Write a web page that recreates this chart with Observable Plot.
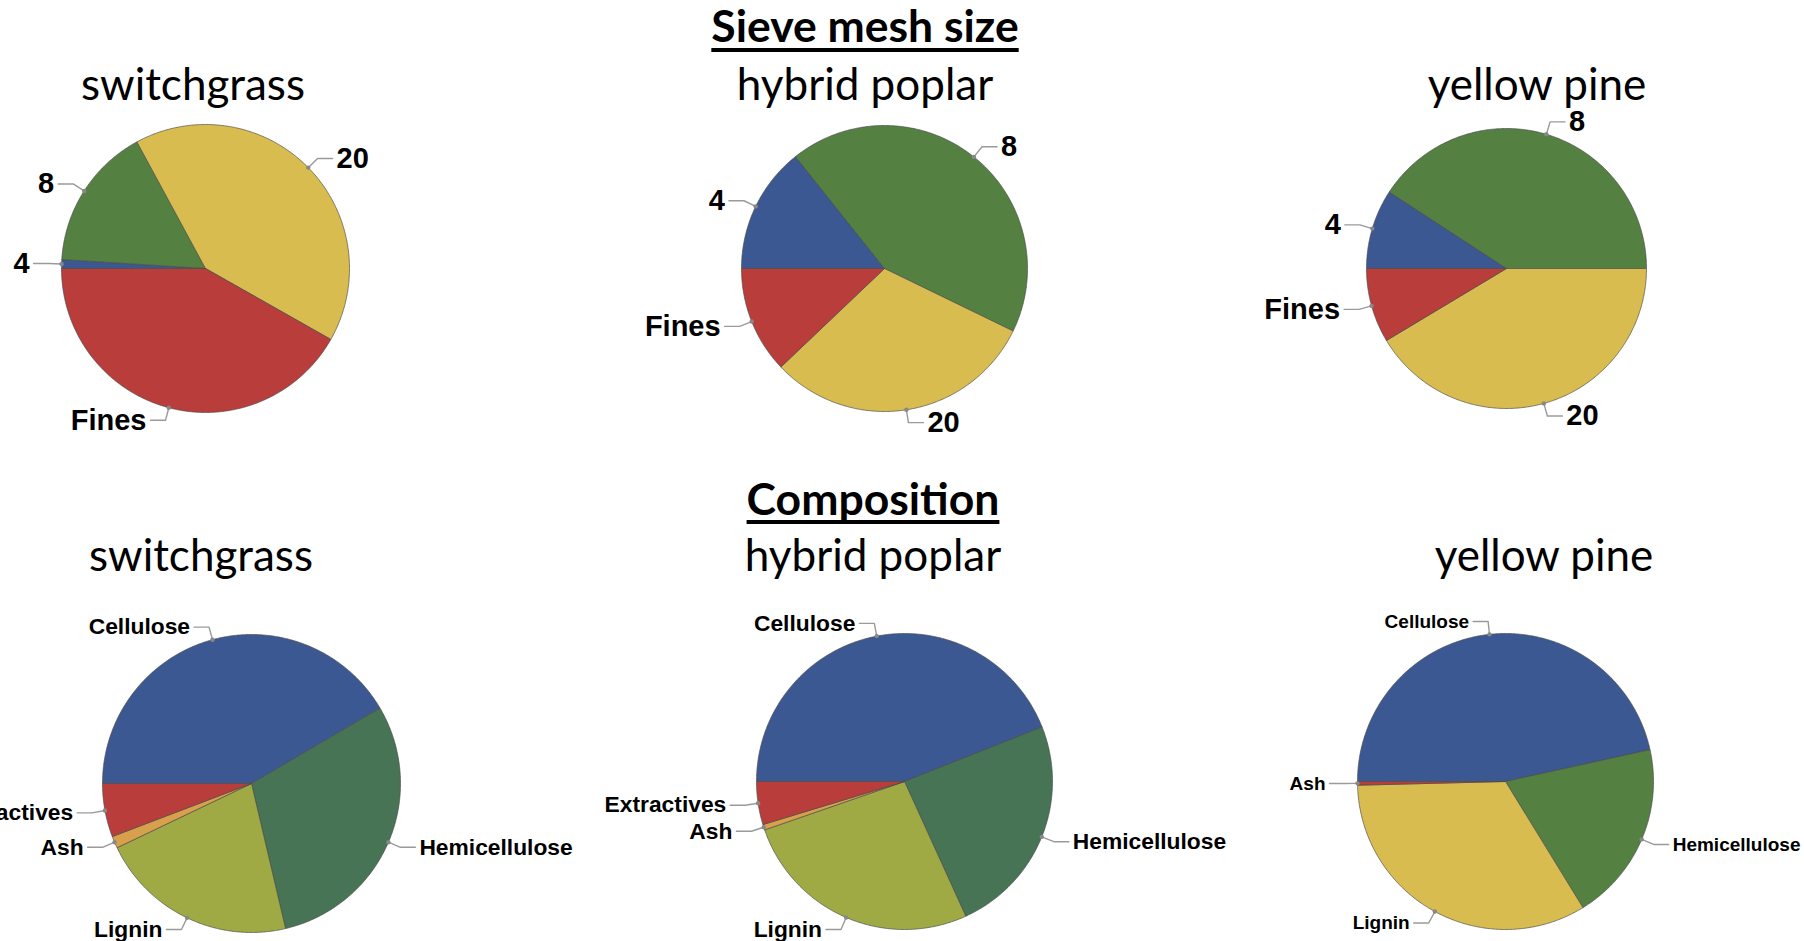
<!DOCTYPE html>
<html>
<head>
<meta charset="utf-8">
<script src="https://cdn.jsdelivr.net/npm/d3@7"></script>
<script src="https://cdn.jsdelivr.net/npm/@observablehq/plot@0.6"></script>
<style>
  html, body { margin: 0; padding: 0; background: #fff; overflow: hidden; }
  #page { position: relative; width: 1804px; height: 941px; overflow: hidden; background: #fff; }
  .pie { position: absolute; }
  .pie svg { max-width: none !important; }
  #titles { position: absolute; left: 0; top: 0; pointer-events: none; }
</style>
</head>
<body>
<div id="page"></div>
<script>
// ---------- data ----------
const sectionTitles = ["Sieve mesh size", "Composition"];
const feedstocks = ["switchgrass", "hybrid poplar", "yellow pine"];

const meshLabels = ["4", "8", "20", "Fines"];
const switchgrassMesh = [1.0, 16.1, 41.1, 41.8];
const poplarMesh = [14.3, 42.9, 30.7, 12.1];
const pineMesh = [9.2, 40.8, 41.4, 8.6];
const meshColors = ["#3c5893", "#548141", "#d9bc50", "#b83d3b"];

const compLabels = ["Cellulose", "Hemicellulose", "Lignin", "Ash", "Extractives"];
const switchgrassComp = [41.6, 29.8, 21.6, 1.3, 5.8];
const poplarComp = [44.0, 24.2, 26.5, 0.6, 4.7];
const compColors = ["#3c5893", "#477455", "#9faa44", "#d9a04b", "#b83d3b"];

const pineCompLabels = ["Cellulose", "Hemicellulose", "Lignin", "Ash"];
const pineComp = [46.6, 19.7, 33.4, 0.4];
const pineCompColors = ["#3c5893", "#548141", "#d9bc50", "#b83d3b"];

// ---------- layout ----------
const pies = [
  {labels: meshLabels, values: switchgrassMesh, colors: meshColors, cx: 205, cy: 268, r: 144, fs: 29},
  {labels: meshLabels, values: poplarMesh, colors: meshColors, cx: 884, cy: 268, r: 143, fs: 29},
  {labels: meshLabels, values: pineMesh, colors: meshColors, cx: 1506, cy: 268, r: 140, fs: 29},
  {labels: compLabels, values: switchgrassComp, colors: compColors, cx: 251, cy: 783, r: 149, fs: 22.8},
  {labels: compLabels, values: poplarComp, colors: compColors, cx: 904, cy: 781, r: 148, fs: 22.8},
  {labels: pineCompLabels, values: pineComp, colors: pineCompColors, cx: 1505, cy: 781, r: 148, fs: 19}
];

const labelFont = "'Liberation Sans', Arial, sans-serif";

function pieChart({labels, values, colors, r, fs}) {
  const W = 760, H = 460;
  const rows = labels.map((label, i) => ({label, value: values[i]}));
  const arcs = d3.pie().value(d => d.value).sort(null)
    .startAngle(-Math.PI / 2).endAngle(3 * Math.PI / 2)(rows);
  const poly = [];
  for (const a of arcs) {
    const label = a.data.label;
    const n = Math.max(2, Math.ceil((a.endAngle - a.startAngle) / (Math.PI / 360)));
    poly.push({label, x: 0, y: 0});
    for (let k = 0; k <= n; k++) {
      const t = a.startAngle + (a.endAngle - a.startAngle) * k / n;
      poly.push({label, x: Math.sin(t), y: Math.cos(t)});
    }
    poly.push({label, x: 0, y: 0});
  }
  const ext = 13 / r, hor = 15 / r;
  const leaders = [], tags = [];
  for (const a of arcs) {
    const label = a.data.label;
    const m = (a.startAngle + a.endAngle) / 2;
    const px = Math.sin(m), py = Math.cos(m);
    const qx = px * (1 + ext), qy = py * (1 + ext);
    const side = px >= 0 ? 1 : -1;
    const tx = qx + side * hor;
    leaders.push({label, x: px, y: py}, {label, x: qx, y: qy}, {label, x: tx, y: qy});
    tags.push({label, x: px, y: py, tx, ty: qy, side});
  }
  const textOpts = {x: "tx", y: "ty", text: "label", fontSize: fs, fontWeight: "bold",
                    fontFamily: labelFont, fill: "#000"};
  return Plot.plot({
    width: W, height: H, margin: 0,
    x: {domain: [-W / 2 / r, W / 2 / r], axis: null},
    y: {domain: [-H / 2 / r, H / 2 / r], axis: null},
    color: {domain: labels, range: colors},
    style: {background: "transparent", overflow: "visible"},
    marks: [
      Plot.line(poly, {x: "x", y: "y", z: "label", fill: "label", stroke: "#4a4a4a",
                       strokeWidth: 0.8, strokeOpacity: 0.85}),
      Plot.line(leaders, {x: "x", y: "y", z: "label", stroke: "#9a9a9a", strokeWidth: 1.4}),
      Plot.dot(tags, {x: "x", y: "y", r: 2.2, fill: "#888", stroke: null}),
      Plot.text(tags.filter(d => d.side > 0), {...textOpts, textAnchor: "start", dx: 4}),
      Plot.text(tags.filter(d => d.side < 0), {...textOpts, textAnchor: "end", dx: -4})
    ]
  });
}

const page = document.getElementById("page");
for (const p of pies) {
  const div = document.createElement("div");
  div.className = "pie";
  div.style.left = (p.cx - 380) + "px";
  div.style.top = (p.cy - 230) + "px";
  div.appendChild(pieChart(p));
  page.appendChild(div);
}

// ---------- titles ----------
const svg = d3.select(page).append("svg").attr("id", "titles")
  .attr("width", 1804).attr("height", 941);
const titleFont = "Lato, 'Open Sans', sans-serif";
const headings = [
  {text: sectionTitles[0], x: 865, y: 42, ul: 48},
  {text: sectionTitles[1], x: 873, y: 515, ul: 520}
];
for (const h of headings) {
  const t = svg.append("text").attr("x", h.x).attr("y", h.y).attr("text-anchor", "middle")
    .attr("font-family", titleFont).attr("font-weight", "bold").attr("font-size", 44.5)
    .attr("fill", "#000").text(h.text);
  const w = t.node().getComputedTextLength();
  svg.append("rect").attr("x", h.x - w / 2).attr("y", h.ul).attr("width", w).attr("height", 4).attr("fill", "#000");
}
const subX = [[193, 865, 1537], [201, 873, 1544]];
const subY = [100, 571];
subY.forEach((y, row) => {
  feedstocks.forEach((name, i) => {
    svg.append("text").attr("x", subX[row][i]).attr("y", y).attr("text-anchor", "middle")
      .attr("font-family", titleFont).attr("font-size", 44).attr("fill", "#000").text(name);
  });
});
</script>
</body>
</html>
